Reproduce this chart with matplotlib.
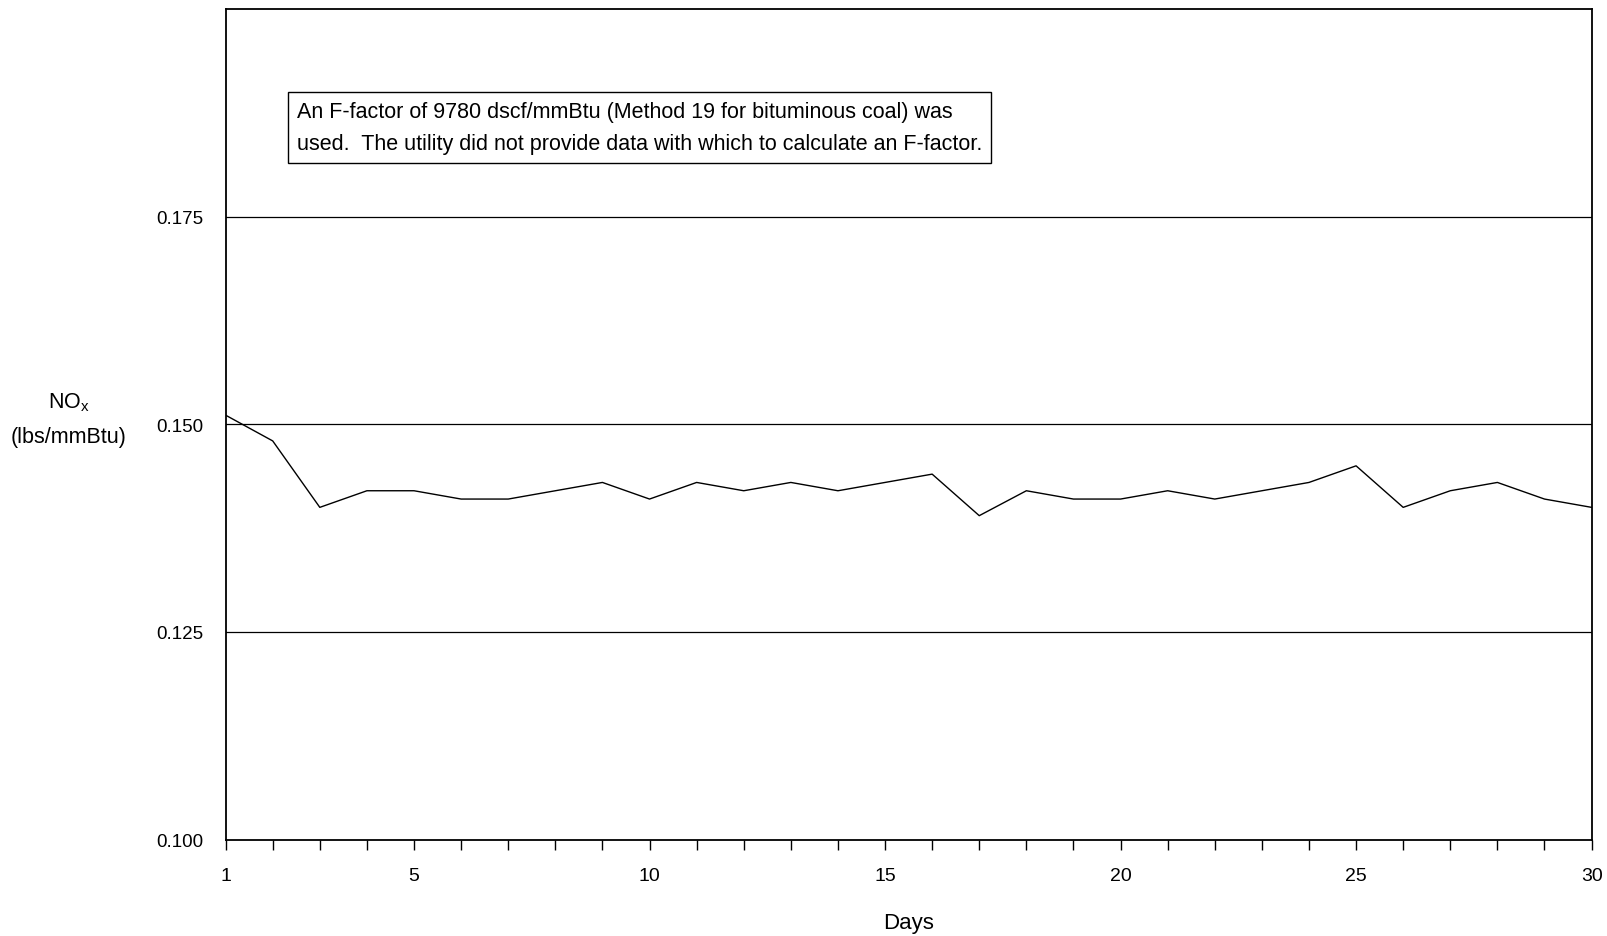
import matplotlib
matplotlib.use("Agg")
import matplotlib.pyplot as plt

days = list(range(1, 31))
nox = [0.1511, 0.148, 0.140, 0.142, 0.142, 0.141, 0.141, 0.142, 0.143, 0.141,
       0.143, 0.142, 0.143, 0.142, 0.143, 0.144, 0.139, 0.142, 0.141, 0.141,
       0.142, 0.141, 0.142, 0.143, 0.145, 0.140, 0.142, 0.143, 0.141, 0.140]
xtick_labels = [1, 5, 10, 15, 20, 25, 30]
ytick_vals = [0.100, 0.125, 0.150, 0.175]
grid_vals = [0.125, 0.150, 0.175]
note = ("An F-factor of 9780 dscf/mmBtu (Method 19 for bituminous coal) was\n"
        "used.  The utility did not provide data with which to calculate an F-factor.")

plt.rcParams['font.family'] = ['Liberation Sans', 'DejaVu Sans']

fig = plt.figure(figsize=(16.08, 9.37), dpi=100)
ax = fig.add_axes([0.1403, 0.1029, 0.9898 - 0.1403, 0.9893 - 0.1029])

for g in grid_vals:
    ax.axhline(g, color='black', lw=0.9, zorder=1)

ax.plot(days, nox, color='black', lw=1.0, zorder=2)

ax.set_xlim(1, 30)
ax.set_ylim(0.100, 0.200)
ax.set_xticks(days)
ax.set_xticklabels([str(d) if d in xtick_labels else '' for d in days], fontsize=14)
ax.set_yticks(ytick_vals)
ax.set_yticklabels([f"{v:.3f}" for v in ytick_vals], fontsize=13.5)
ax.tick_params(axis='x', direction='out', length=7, width=1, pad=13)
ax.tick_params(axis='y', length=0, pad=16)
for s in ax.spines.values():
    s.set_linewidth(1.3)
    s.set_color('black')

ax.set_xlabel('Days', fontsize=16, labelpad=20)

fig.text(69 / 1608, 1 - 403 / 937, r'NO$_\mathregular{x}$', ha='center', va='center', fontsize=15.5)
fig.text(69 / 1608, 1 - 437 / 937, '(lbs/mmBtu)', ha='center', va='center', fontsize=15.5)

ax.text(0.052, 0.857, note, transform=ax.transAxes, fontsize=15.5, va='center', ha='left',
        linespacing=1.68,
        bbox=dict(boxstyle='square,pad=0.42', facecolor='white', edgecolor='black', lw=1.0))

fig.savefig('out.png', dpi=100)
